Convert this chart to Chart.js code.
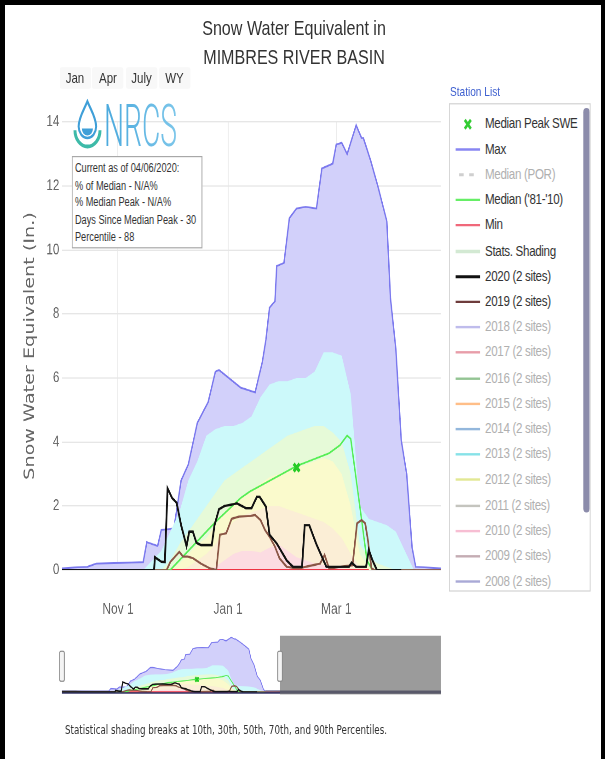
<!DOCTYPE html>
<html>
<head>
<meta charset="utf-8">
<script src="https://cdn.jsdelivr.net/npm/chart.js@4.4.1/dist/chart.umd.min.js"></script>
<style>
html,body{margin:0;padding:0;background:#fff;width:605px;height:759px;overflow:hidden;}
#stage{position:absolute;left:0;top:0;width:657.6px;height:632.5px;transform-origin:0 0;transform:scale(0.92,1.2);font-family:"Liberation Sans",Arial,sans-serif;color:#333;}
.abs{position:absolute;white-space:nowrap;}
.btn{position:absolute;width:34px;height:18px;line-height:18px;font-size:12.5px;text-align:center;background:#f8f8f8;border-radius:2px;color:#333;}
#info{position:absolute;left:78.3px;top:130px;width:141.8px;height:76.9px;box-sizing:border-box;border:1px solid #a8a8a8;background:#fff;padding:2.2px 0 0 2.2px;font-size:10px;line-height:14.46px;color:#333;white-space:nowrap;}
#legend{position:absolute;left:488px;top:85.8px;width:154.4px;height:407.5px;box-sizing:border-box;border:1px solid #d2d2d2;background:#fff;overflow:hidden;}
.lrow{position:absolute;left:0;height:21.2px;width:150px;}
.lrow svg{position:absolute;left:5.6px;top:0;}
.lrow span{position:absolute;left:38.2px;top:0;font-size:12.6px;letter-spacing:-0.35px;line-height:21.2px;white-space:nowrap;}
#scroll{position:absolute;left:144.7px;top:3.2px;width:7.6px;height:336.7px;background:#8c8cab;border-radius:3.5px;}
.frame{position:absolute;background:#000;}
</style>
</head>
<body>
<div id="stage">
  <canvas id="mainChart" class="abs" style="left:0;top:0;"></canvas>
  <canvas id="navChart" class="abs" style="left:0;top:515px;"></canvas>

  <div class="abs" style="left:119.6px;top:14.75px;width:400px;text-align:center;font-size:17.5px;line-height:17.5px;color:#333;">Snow Water Equivalent in</div>
  <div class="abs" style="left:119.6px;top:38.95px;width:400px;text-align:center;font-size:17.5px;line-height:17.5px;color:#333;">MIMBRES RIVER BASIN</div>

  <div class="btn" style="left:64.5px;top:56.1px;">Jan</div>
  <div class="btn" style="left:100.4px;top:56.1px;">Apr</div>
  <div class="btn" style="left:136.8px;top:56.1px;">July</div>
  <div class="btn" style="left:172.7px;top:56.1px;">WY</div>

  <div class="abs" style="left:489.1px;top:71.3px;font-size:11px;line-height:11px;color:#3d5fcf;">Station List</div>

  <svg class="abs" style="left:78px;top:82px;" width="120" height="44" viewBox="0 0 120 44">
    <defs>
      <linearGradient id="nrcsg" x1="0" y1="0" x2="1" y2="0">
        <stop offset="0" stop-color="#4aa9dd"/>
        <stop offset="1" stop-color="#7cc6ea"/>
      </linearGradient>
    </defs>
    <path d="M17,2.5 C13,10 7.5,16 7.5,23.5 A9.5,9.5 0 0 0 26.5,23.5 C26.5,16 21,10 17,2.5 Z" fill="#fff" stroke="#3f9fd8" stroke-width="2.2"/>
    <path d="M11,25 A6,6 0 0 0 23,25 Z" fill="#3f9fd8"/>
    <path d="M3.5,26.5 A13.6,13.6 0 0 0 30.7,26.5" fill="none" stroke="#3dbaa8" stroke-width="3.2"/>
    <text x="35" y="39.7" font-family="Roboto, 'Liberation Sans', sans-serif" font-weight="300" font-size="50" textLength="79.4" lengthAdjust="spacingAndGlyphs" fill="url(#nrcsg)">NRCS</text>
  </svg>

  <div id="info">Current as of 04/06/2020:<br>% of Median - N/A%<br>% Median Peak - N/A%<br>Days Since Median Peak - 30<br>Percentile - 88</div>

  <div id="legend"><div id="scroll"></div></div>

  <div class="abs" style="left:70.7px;top:603.7px;font-family:'DejaVu Sans',sans-serif;font-size:9.5px;line-height:9.5px;color:#333;">Statistical shading breaks at 10th, 30th, 50th, 70th, and 90th Percentiles.</div>
</div>

<div class="frame" style="left:0;top:0;width:5px;height:759px;"></div>
<div class="frame" style="left:0;top:0;width:605px;height:5px;"></div>
<div class="frame" style="left:601px;top:0;width:4px;height:759px;"></div>

<script>
// ---------- data (days since Oct 1, values in inches) ----------
const dayTicks = [31, 92, 152];
const dayTickLabels = ['Nov 1', 'Jan 1', 'Mar 1'];
const yTicks = [0, 2, 4, 6, 8, 10, 12, 14];

const maxDays = [0,7,14,19,32,45,47,53,55,62,66,70,75,81,85,87,99,107,111,113,115,118,119,123,126,130,135,141,144,150,152,155,158,163,166,167,171,175,180,182,185,188,191,194,196,210];
const maxVals = [0.05,0.08,0.1,0.2,0.22,0.25,0.87,0.75,1.25,1.3,2.8,3.3,4.6,5.25,6.2,6.25,5.7,5.55,6.5,7.2,8.2,8.4,9.5,9.6,11.0,11.3,11.35,11.3,12.55,12.7,13.3,13.35,13.0,13.9,13.5,13.5,12.8,12.0,10.9,8.5,6.9,4.05,3.0,0.7,0.1,0.05];

const bandDays = [0,45,55,60,65,70,75,80,85,90,95,100,105,110,115,120,125,130,135,140,145,150,155,160,165,170,175,180,185,190,195,210];
const p90Vals = [0,0,0.6,1.2,1.8,2.8,3.4,4.2,4.4,4.5,4.5,4.6,4.8,5.4,5.8,5.9,5.9,6.0,6.0,6.2,6.8,6.8,6.7,5.5,2.0,1.6,1.5,1.4,1.2,0.6,0,0];
const p70Vals = [0,0,0,0.3,0.8,1.2,1.6,2.0,2.4,2.8,3.0,3.2,3.4,3.6,3.8,4.0,4.2,4.3,4.4,4.5,4.5,4.3,4.0,3.0,0.8,0.4,0.2,0.1,0,0,0,0];
const p50Vals = [0,0,0,0,0.2,0.5,0.8,1.0,1.4,1.8,2.1,2.3,2.5,2.7,2.9,3.0,3.1,3.2,3.3,3.4,3.5,3.4,3.0,2.0,0.5,0.1,0,0,0,0,0,0];
const p30Vals = [0,0,0,0,0,0.1,0.3,0.5,0.8,1.2,1.5,1.7,1.8,1.9,2.0,2.0,1.9,1.8,1.7,1.6,1.5,1.3,1.0,0.5,0.1,0,0,0,0,0,0,0];
const p10Vals = [0,0,0,0,0,0,0,0,0.1,0.3,0.5,0.6,0.6,0.55,0.7,0.8,0.6,0.4,0.3,0.2,0.15,0.1,0.05,0,0,0,0,0,0,0,0,0];

const minDays = [58, 170];
const minVals = [0, 0];

const medianDays = [0,60,70,85,99,104,130,148,154,158,160,165,169,172,196];
const medianVals = [0,0,0.6,1.5,2.25,2.45,3.25,3.65,3.9,4.2,4.1,2.0,0.3,0,0];

const peakDay = 130;
const peakVal = 3.2;

const y2020Days = [0,51,51.5,55,57,58.5,61,63.5,66,69,70.5,72.5,74.5,77,83,84.5,87,90,97,102,105,108,109.5,113,115,119,124.5,128,133,134.5,137,141,146.5,159,160.5,163,168.5,170,172,174.5,188];
const y2020Vals = [0,0,0.4,0.26,0.25,2.55,2.25,2.1,1.4,0.75,1.2,1.2,0.85,0.78,0.78,1.4,1.9,2.0,2.08,1.93,1.93,2.29,2.29,1.98,1.1,0.83,0.3,0.1,0.1,1.4,1.4,0.8,0.1,0.1,0.23,0.1,0.1,0.63,0.31,0,0];

const y2019Days = [0,58,60,65,67,69.5,72.5,77,82,85.5,87.5,91,94,98,104.5,107,110,112.5,115,118,120.5,124.5,131,143,145.5,148,161,163.5,166,168,169.5,171.5,173,210];
const y2019Vals = [0,0,0.25,0.57,0.42,0.42,0.37,0.2,0.05,0,1.1,1.15,1.6,1.67,1.69,1.72,1.56,1.25,1.04,0.73,0.37,0.1,0.05,0.2,0.47,0.05,0.15,1.46,1.56,1.46,0.94,0.05,0,0];

const mainRange = [0, 210];
const waterYearDays = 365;

const legendLabels = ['Median Peak SWE','Max','Median (POR)',"Median ('81-'10)",'Min','Stats. Shading','2020 (2 sites)','2019 (2 sites)','2018 (2 sites)','2017 (2 sites)','2016 (2 sites)','2015 (2 sites)','2014 (2 sites)','2013 (2 sites)','2012 (2 sites)','2011 (2 sites)','2010 (2 sites)','2009 (2 sites)','2008 (2 sites)'];
const legendColors = ['#33cc33','#8886f2','#cfcfcf','#66ee66','#f0687a','#d3e9d3','#111111','#6e3c3c','#aaa6e6','#e07c8c','#6fb06f','#ffa860','#6f9fd0','#5fd8e0','#d8e070','#b0b0a8','#f4a8c4','#b0909a','#8c8cc8'];
const legendVisible = [1,1,0,1,1,1,1,1,0,0,0,0,0,0,0,0,0,0,0];

// ---------- helpers ----------
function pts(d, v) { return d.map((x, i) => ({x: x, y: v[i]})); }

function buildDatasets(nav) {
  const k = nav ? 0.6 : 1;
  const base = {pointRadius: 0, pointHoverRadius: 0, tension: 0, fill: false};
  return [
    Object.assign({}, base, {label: 'Median Peak SWE', data: [{x: peakDay, y: peakVal}], showLine: false,
      pointStyle: 'crossRot', pointRadius: nav ? 2.6 : 4.5, borderColor: '#26cc26', backgroundColor: '#26cc26', pointBorderWidth: nav ? 2 : 3}),
    Object.assign({}, base, {label: '2020 (2 sites)', data: pts(y2020Days, y2020Vals), borderColor: '#111111', borderWidth: 2.0 * k}),
    Object.assign({}, base, {label: '2019 (2 sites)', data: pts(y2019Days, y2019Vals), borderColor: '#8a5646', borderWidth: 1.8 * k}),
    Object.assign({}, base, {label: "Median ('81-'10)", data: pts(medianDays, medianVals), borderColor: '#55ee55', borderWidth: 1.5 * k}),
    Object.assign({}, base, {label: 'Min', data: pts(minDays, minVals), borderColor: '#ee3344', borderWidth: 2.0 * k}),
    Object.assign({}, base, {label: '10th Percentile', data: pts(bandDays, p10Vals), borderWidth: 0, borderColor: 'rgba(0,0,0,0)', backgroundColor: 'rgb(252,220,226)', fill: 'origin'}),
    Object.assign({}, base, {label: '30th Percentile', data: pts(bandDays, p30Vals), borderWidth: 0, borderColor: 'rgba(0,0,0,0)', backgroundColor: 'rgb(251,238,214)', fill: 'origin'}),
    Object.assign({}, base, {label: '50th Percentile', data: pts(bandDays, p50Vals), borderWidth: 0, borderColor: 'rgba(0,0,0,0)', backgroundColor: 'rgb(250,250,204)', fill: 'origin'}),
    Object.assign({}, base, {label: '70th Percentile', data: pts(bandDays, p70Vals), borderWidth: 0, borderColor: 'rgba(0,0,0,0)', backgroundColor: 'rgb(230,250,216)', fill: 'origin'}),
    Object.assign({}, base, {label: '90th Percentile', data: pts(bandDays, p90Vals), borderWidth: 0, borderColor: 'rgba(0,0,0,0)', backgroundColor: 'rgb(204,249,250)', fill: 'origin'}),
    Object.assign({}, base, {label: 'Max', data: pts(maxDays, maxVals), borderColor: '#7b79ee', borderWidth: 1.5 * k, backgroundColor: 'rgb(210,208,250)', fill: 'origin'})
  ];
}

Chart.defaults.font.family = "'Liberation Sans', Arial, sans-serif";

// ---------- main chart ----------
const mainCanvas = document.getElementById('mainChart');
mainCanvas.width = 658; mainCanvas.height = 520;
new Chart(mainCanvas, {
  type: 'line',
  data: {datasets: buildDatasets(false)},
  options: {
    responsive: false, animation: false, devicePixelRatio: 2, events: [],
    layout: {padding: {left: 0, right: 178.7, top: 101.7, bottom: 0}},
    plugins: {legend: {display: false}, tooltip: {enabled: false}},
    scales: {
      x: {
        type: 'linear', min: mainRange[0], max: mainRange[1],
        afterBuildTicks: s => { s.ticks = dayTicks.map(v => ({value: v})); },
        afterFit: s => { s.height = 45; },
        ticks: {callback: v => { const i = dayTicks.indexOf(v); return i >= 0 ? dayTickLabels[i] : ''; },
          padding: 25, autoSkip: false, maxRotation: 0, color: '#666', font: {size: 13}},
        grid: {color: '#ececec', drawTicks: false},
        border: {display: false}
      },
      y: {
        min: 0, max: 14,
        afterBuildTicks: s => { s.ticks = yTicks.map(v => ({value: v})); },
        afterFit: s => { s.width = 67.4; },
        ticks: {padding: 3, color: '#666', font: {size: 12.5}, callback: v => String(v)},
        grid: {color: '#e6e6e6', drawTicks: false},
        border: {display: false},
        title: {display: true, text: 'Snow Water Equivalent (In.)', color: '#666',
          font: {family: "'DejaVu Sans', sans-serif", size: 16}, padding: {top: 23, bottom: 0}}
      }
    }
  }
});

// ---------- navigator ----------
const navDecor = {
  id: 'navDecor',
  beforeDatasetsDraw(chart) {
    const {ctx, chartArea: a} = chart;
    ctx.save();
    ctx.fillStyle = '#22225a';
    ctx.fillRect(a.left, a.bottom - 1.3, a.right - a.left, 2.6);
    ctx.restore();
  },
  afterDraw(chart) {
    const {ctx, chartArea: a, scales: {x}} = chart;
    const x0 = x.getPixelForValue(mainRange[0]);
    const x1 = x.getPixelForValue(mainRange[1]);
    ctx.save();
    ctx.fillStyle = 'rgba(112,112,112,0.7)';
    ctx.fillRect(x1, a.top - 1, a.right - x1, a.bottom - a.top + 3);
    [x0, x1].forEach(hx => {
      const hw = 5, hh = 25, cy = (a.top + a.bottom) / 2 + 1.5;
      ctx.fillStyle = '#f4f4f4';
      ctx.strokeStyle = '#8a8a8a';
      ctx.lineWidth = 1;
      ctx.beginPath();
      ctx.roundRect(hx - hw / 2, cy - hh / 2, hw, hh, 1.5);
      ctx.fill();
      ctx.stroke();
    });
    ctx.restore();
  }
};
const navCanvas = document.getElementById('navChart');
navCanvas.width = 658; navCanvas.height = 75;
new Chart(navCanvas, {
  type: 'line',
  data: {datasets: buildDatasets(true)},
  options: {
    responsive: false, animation: false, devicePixelRatio: 2, events: [],
    layout: {padding: {left: 67.4, right: 178.7, top: 15.8, bottom: 13.3}},
    plugins: {legend: {display: false}, tooltip: {enabled: false}},
    scales: {
      x: {type: 'linear', min: 0, max: waterYearDays, display: false},
      y: {min: 0, max: 14, display: false}
    }
  },
  plugins: [navDecor]
});

// ---------- legend (HTML) ----------
const legendBox = document.getElementById('legend');
legendLabels.forEach((lab, i) => {
  const row = document.createElement('div');
  row.className = 'lrow';
  row.style.top = (5.8 + i * 21.2) + 'px';
  const col = legendColors[i];
  const on = legendVisible[i] === 1;
  let sym;
  if (i === 0) {
    sym = '<line x1="10.2" y1="6.9" x2="16.8" y2="14.3" stroke="' + col + '" stroke-width="2.6"/><line x1="16.8" y1="6.9" x2="10.2" y2="14.3" stroke="' + col + '" stroke-width="2.6"/>';
  } else if (lab === 'Median (POR)') {
    sym = '<line x1="4" y1="10.6" x2="9" y2="10.6" stroke="' + col + '" stroke-width="2.4"/><line x1="15" y1="10.6" x2="20" y2="10.6" stroke="' + col + '" stroke-width="2.4"/>';
  } else if (lab === 'Stats. Shading') {
    sym = '<line x1="0" y1="10.6" x2="27" y2="10.6" stroke="' + col + '" stroke-width="3"/>';
  } else {
    const w = lab.startsWith('2020') ? 2.6 : 2.0;
    sym = '<line x1="0" y1="10.6" x2="27" y2="10.6" stroke="' + col + '" stroke-width="' + w + '" opacity="' + (on ? 1 : 0.75) + '"/>';
  }
  row.innerHTML = '<svg width="27" height="21.2" viewBox="0 0 27 21.2">' + sym + '</svg><span style="color:' + (on ? '#333' : '#b0b0b0') + '">' + lab + '</span>';
  legendBox.appendChild(row);
});
</script>
</body>
</html>
